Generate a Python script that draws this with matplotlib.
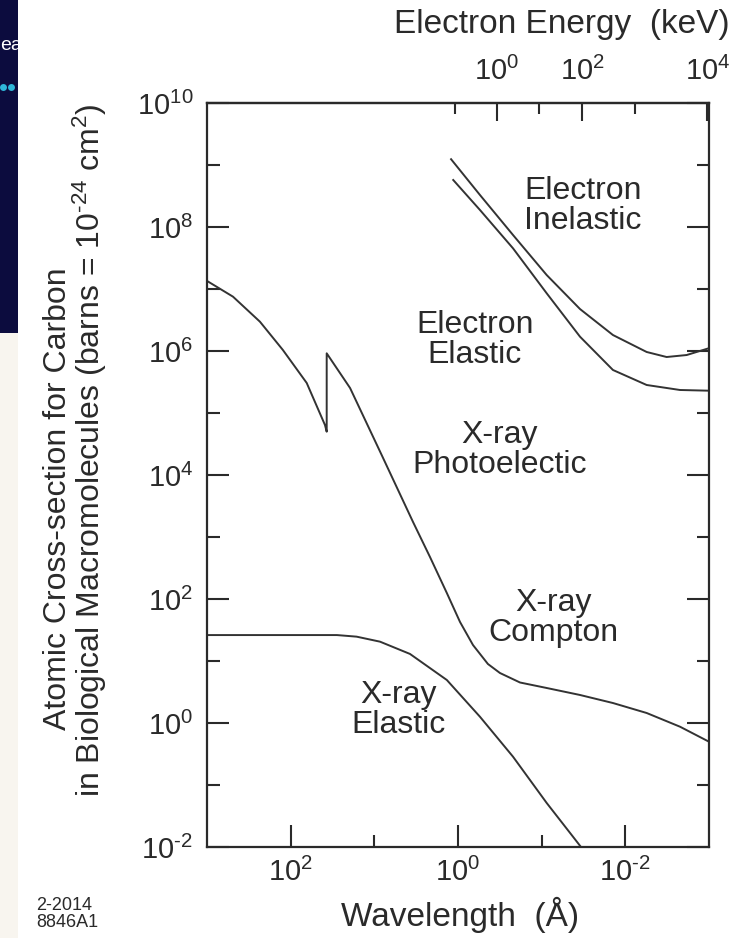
import numpy as np
import matplotlib.pyplot as plt
from matplotlib.patches import Rectangle
from matplotlib.lines import Line2D
from matplotlib.ticker import NullFormatter, FuncFormatter

plt.rcParams['font.family'] = ['Liberation Sans', 'DejaVu Sans']
plt.rcParams['axes.unicode_minus'] = False
plt.rcParams['mathtext.fontset'] = 'custom'
plt.rcParams['mathtext.rm'] = 'Liberation Sans'
plt.rcParams['mathtext.it'] = 'Liberation Sans'
plt.rcParams['mathtext.bf'] = 'Liberation Sans'

# wavelength (Angstrom) and cross-section (barns)
photo_wl = [1000, 489, 233, 124, 64.3, 38.9, 37.1, 37.1, 19.5, 8.17, 3.45, 2.16,
            1.36, 0.946, 0.662, 0.439, 0.315, 0.1815, 0.0871, 0.0348, 0.01406,
            0.00556, 0.00222, 0.001]
photo_cs = [1.35e7, 7.52e6, 2.97e6, 1.04e6, 3.05e5, 6.40e4, 4.99e4, 9.18e5, 2.53e5,
            2.10e4, 1.75e3, 475, 125, 42.6, 18.1, 8.95, 6.40, 4.50, 3.67, 2.83, 2.10,
            1.45, 0.871, 0.499]

xel_wl = [1000, 28, 16.3, 8.55, 3.75, 1.36, 0.546, 0.220, 0.0871, 0.0423, 0.0339]
xel_cs = [26.2, 26.2, 24.7, 20.5, 13.0, 4.94, 1.26, 0.286, 0.0513, 0.0147, 0.01]

ein_wl = [1.21, 0.546, 0.220, 0.0871, 0.0348, 0.01406, 0.00556, 0.00321, 0.00185, 0.001]
ein_cs = [1.24e9, 3.28e8, 7.43e7, 1.68e7, 4.75e6, 1.81e6, 9.64e5, 8.0e5, 8.61e5, 1.11e6]

eel_wl = [1.14, 0.546, 0.220, 0.0871, 0.0348, 0.01406, 0.00556, 0.00222, 0.001]
eel_cs = [5.73e8, 1.88e8, 4.53e7, 8.53e6, 1.70e6, 4.94e5, 2.83e5, 2.35e5, 2.29e5]

# electron energy <-> wavelength (relativistic, constant tuned to the drawing)
K = 11.0
MC2 = 511.0


def wl_to_kev(wl):
    wl = np.clip(np.asarray(wl, dtype=float), 1e-12, None)
    q = K / wl
    return q ** 2 / (np.sqrt(MC2 ** 2 + q ** 2) + MC2)


def kev_to_wl(e):
    e = np.clip(np.asarray(e, dtype=float), 1e-12, None)
    return K / np.sqrt(e ** 2 + 2 * e * MC2)


def pow_label(v, pos):
    e = int(round(np.log10(v)))
    s = str(e) if e >= 0 else r'\text{-}' + str(-e)
    return r'$\mathdefault{10^{%s}}$' % s


ink = '#2a2a2a'
W, H = 733, 938
fig = plt.figure(figsize=(W / 100, H / 100), dpi=100)
fig.patch.set_facecolor('white')

# slide remnants on the left edge
fig.add_artist(Rectangle((0, 1 - 333 / H), 18 / W, 333 / H, transform=fig.transFigure,
                         facecolor='#0c0c3e', edgecolor='none', zorder=0))
fig.add_artist(Rectangle((0, 0), 18 / W, 1 - 333 / H, transform=fig.transFigure,
                         facecolor='#f8f5ef', edgecolor='none', zorder=0))
fig.text(0, 1 - 45 / H, 'ea', color='white', fontsize=14, va='center', ha='left')
fig.add_artist(Line2D([3 / W, 11 / W], [1 - 87 / H, 1 - 87 / H], transform=fig.transFigure,
                      ls='none', marker='o', ms=5, color='#2fb6d8', mec='none'))

ax = fig.add_axes([207 / W, 1 - 847 / H, 502 / W, 744 / H])

for wl, cs in [(photo_wl, photo_cs), (xel_wl, xel_cs), (ein_wl, ein_cs), (eel_wl, eel_cs)]:
    ax.plot(wl, cs, color='#333333', lw=1.4, solid_joinstyle='round')

ax.set_xscale('log')
ax.set_yscale('log')
ax.set_xlim(1e3, 1e-3)
ax.set_ylim(1e-2, 1e10)

ax.set_xticks([1e2, 1e0, 1e-2])
ax.set_xticks([1e1, 1e-1], minor=True)
ax.set_yticks([10.0 ** k for k in range(-2, 11, 2)])
ax.set_yticks([10.0 ** k for k in range(-1, 10, 2)], minor=True)
ax.xaxis.set_major_formatter(FuncFormatter(pow_label))
ax.yaxis.set_major_formatter(FuncFormatter(pow_label))
ax.xaxis.set_minor_formatter(NullFormatter())
ax.yaxis.set_minor_formatter(NullFormatter())

for s in ax.spines.values():
    s.set_linewidth(1.6)
    s.set_color(ink)

ax.tick_params(which='both', direction='in', top=False, right=True, color=ink,
               width=1.5, labelsize=21, labelcolor=ink)
ax.tick_params(which='major', length=16)
ax.tick_params(which='minor', length=9)
ax.tick_params(axis='x', pad=8)
ax.tick_params(axis='y', pad=10)

secax = ax.secondary_xaxis('top', functions=(wl_to_kev, kev_to_wl))
secax.set_xticks([1e0, 1e2, 1e4])
secax.set_xticks([1e-1, 1e1, 1e3], minor=True)
secax.xaxis.set_major_formatter(FuncFormatter(pow_label))
secax.xaxis.set_minor_formatter(NullFormatter())
secax.spines['top'].set_linewidth(1.6)
secax.spines['top'].set_color(ink)
secax.tick_params(which='both', direction='in', color=ink, width=1.5,
                  labelsize=21, labelcolor=ink, pad=12)
secax.tick_params(which='major', length=13)
secax.tick_params(which='minor', length=8)

txt = dict(ha='center', va='center', fontsize=23, color=ink, linespacing=1.0)
ax.text(0.032, 2.2e8, 'Electron\nInelastic', **txt)
ax.text(0.63, 1.5e6, 'Electron\nElastic', **txt)
ax.text(0.315, 2.5e4, 'X-ray\nPhotoelectic', **txt)
ax.text(0.073, 49, 'X-ray\nCompton', **txt)
ax.text(5.2, 1.6, 'X-ray\nElastic', **txt)

fig.text(562 / W, 1 - 25 / H, 'Electron Energy  (keV)', ha='center', va='center',
         fontsize=24, color=ink)
fig.text(460 / W, 1 - 915 / H, 'Wavelength  (Å)', ha='center', va='center',
         fontsize=24, color=ink)
# first line sits lower than the second in the original; trailing spaces shift it
ylab = ('Atomic Cross-section for Carbon' + ' ' * 11 + '\n'
        'in Biological Macromolecules (barns = 10$^{\\text{-}24}$ cm$^{2}$)')
fig.text(76 / W, 1 - 450 / H, ylab, rotation=90, ha='center', va='center',
         fontsize=23, color=ink, linespacing=0.95, multialignment='center')
fig.text(36 / W, 1 - 914 / H, '2-2014\n8846A1', ha='left', va='center', fontsize=13,
         color=ink, linespacing=1.05)

fig.savefig('out.png', dpi=100)
